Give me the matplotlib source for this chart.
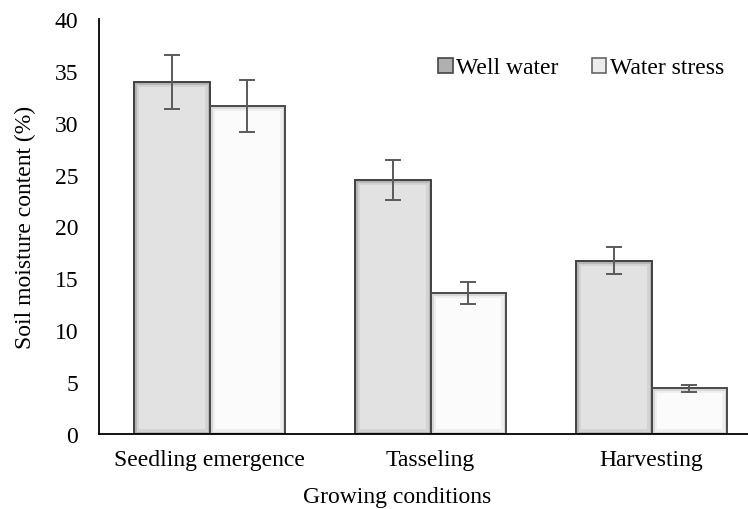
import matplotlib
matplotlib.use('Agg')
import matplotlib.pyplot as plt
import numpy as np
from matplotlib.patches import Patch

plt.rcParams['font.family'] = ['Liberation Serif', 'DejaVu Serif']
plt.rcParams['font.size'] = 17

# data
stages = ['Seedling emergence', 'Tasseling', 'Harvesting']
well_water = [33.9, 24.5, 16.7]
well_err = [2.6, 1.9, 1.3]
water_stress = [31.6, 13.6, 4.4]
stress_err = [2.5, 1.05, 0.35]
series_names = ['Well water', 'Water stress']

fig = plt.figure(figsize=(7.48, 5.10), dpi=100)
ax = fig.add_axes([99 / 748, 75 / 510, 649 / 748, 415 / 510])

x = np.arange(len(stages))
w = 0.34


def bevel_bars(pos, vals, face, band1, band2, edge):
    # light bevel band, darker inner band, then outline
    b1 = ax.bar(pos, vals, w, color=face, edgecolor=band1, linewidth=7, zorder=1)
    for p in b1:
        p.set_clip_path(p)
    b2 = ax.bar(pos, vals, w, facecolor='none', edgecolor=band2, linewidth=3.5, zorder=1.1)
    for p in b2:
        p.set_clip_path(p)
    ax.bar(pos, vals, w, facecolor='none', edgecolor=edge, linewidth=1.4, zorder=1.2)


bevel_bars(x - w / 2, well_water, '#e2e2e2', '#d2d2d2', '#b4b4b4', '#404040')
bevel_bars(x + w / 2, water_stress, '#fbfbfb', '#eeeeee', '#d6d6d6', '#4a4a4a')

ax.errorbar(x - w / 2, well_water, yerr=well_err, fmt='none', ecolor='#5a5a5a',
            elinewidth=1.4, capsize=6, capthick=1.4, zorder=3)
ax.errorbar(x + w / 2, water_stress, yerr=stress_err, fmt='none', ecolor='#5a5a5a',
            elinewidth=1.4, capsize=6, capthick=1.4, zorder=3)

ax.set_ylim(0, 40)
ax.set_yticks(np.arange(0, 41, 5))
ax.set_xlim(-0.5, -0.5 + 649 / 221)
ax.set_xticks(x)
ax.set_xticklabels(stages)
ax.tick_params(axis='y', length=0, pad=15)
ax.tick_params(axis='x', length=0, pad=11)

for s in ['top', 'right']:
    ax.spines[s].set_visible(False)
ax.spines['left'].set_color('black')
ax.spines['bottom'].set_color('black')
ax.spines['left'].set_linewidth(1.3)
ax.spines['bottom'].set_linewidth(1.3)
ax.spines['bottom'].set_zorder(4)

ax.set_xlabel('Growing conditions')
ax.xaxis.set_label_coords((397 - 99) / 649, -(498 - 435) / 415)
ax.xaxis.label.set_va('center')
ax.set_ylabel('Soil moisture content (%)')
ax.yaxis.set_label_coords((25 - 99) / 649, 0.5)
ax.yaxis.label.set_va('center')

handles = [Patch(facecolor='#b0b0b0', edgecolor='#444444', linewidth=1.2),
           Patch(facecolor='#ececec', edgecolor='#666666', linewidth=1.2)]
fig.legend(handles, series_names, ncol=2, frameon=False, loc='center left',
           bbox_to_anchor=(438 / 748, 1 - 69 / 510), borderpad=0, borderaxespad=0,
           handlelength=0.62, handleheight=0.62, handletextpad=0.15,
           columnspacing=1.4, prop={'family': ['Liberation Serif'], 'size': 17})

fig.savefig('out.png', dpi=100)
